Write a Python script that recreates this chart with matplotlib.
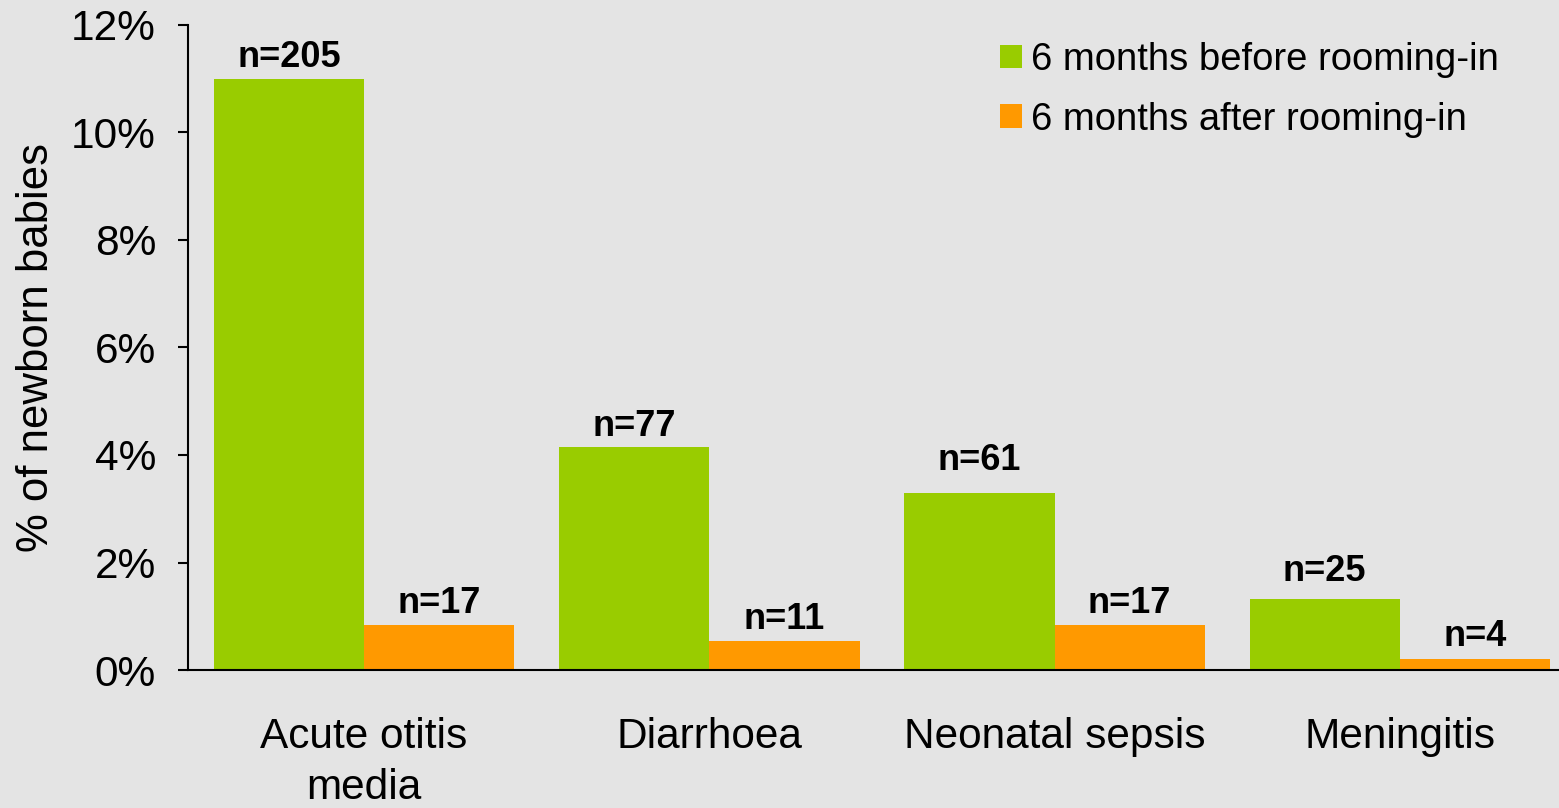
import matplotlib.pyplot as plt
import numpy as np

categories = ['Acute otitis\nmedia', 'Diarrhoea', 'Neonatal sepsis', 'Meningitis']
before = [11.0, 4.15, 3.29, 1.32]
after = [0.84, 0.54, 0.84, 0.20]
n_before = [205, 77, 61, 25]
n_after = [17, 11, 17, 4]
series_names = ['6 months before rooming-in', '6 months after rooming-in']

green = '#99cc00'
orange = '#ff9900'
bg = '#e4e4e4'

# label gaps above bars (points), as in the original slide
off_before = [3, 2, 11, 7]
off_after = [3, 3, 3, 4]

plt.rcParams['font.family'] = ['Liberation Sans', 'DejaVu Sans']

fig = plt.figure(figsize=(15.59, 8.08), dpi=100, facecolor=bg)
ax = fig.add_axes([188 / 1559, 1 - 670 / 808, 1 - 188 / 1559, (670 - 25) / 808])
ax.set_facecolor('none')

x = np.arange(len(categories))
w = 0.435
b1 = ax.bar(x - w / 2, before, w, color=green, label=series_names[0])
b2 = ax.bar(x + w / 2, after, w, color=orange, label=series_names[1])

for rect, n, off in zip(b1, n_before, off_before):
    ax.annotate('n=%d' % n, (rect.get_x() + rect.get_width() / 2, rect.get_height()),
                xytext=(0, off), textcoords='offset points',
                ha='center', va='bottom', fontsize=26, fontweight='bold')
for rect, n, off in zip(b2, n_after, off_after):
    ax.annotate('n=%d' % n, (rect.get_x() + rect.get_width() / 2, rect.get_height()),
                xytext=(0, off), textcoords='offset points',
                ha='center', va='bottom', fontsize=26, fontweight='bold')

ax.set_xlim(-0.51, 3.461)
ax.set_ylim(0, 12)
ax.set_yticks(range(0, 13, 2))
ax.set_yticklabels(['%d%%' % v for v in range(0, 13, 2)])
ax.set_xticks(x)
ax.set_xticklabels(categories)
for t in ax.get_xticklabels():
    t.set_linespacing(1.35)

ax.tick_params(axis='y', length=7, width=1.5, pad=16, labelsize=30.5)
ax.tick_params(axis='x', length=0, pad=34, labelsize=30.5)
ax.set_ylabel('% of newborn babies', fontsize=31.5, labelpad=10)

for s in ['top', 'right']:
    ax.spines[s].set_visible(False)
ax.spines['left'].set_linewidth(1.5)
ax.spines['bottom'].set_linewidth(1.5)

fig.legend(loc='upper left', bbox_to_anchor=(1000 / 1559, 1 - 42 / 808),
           frameon=False, fontsize=27.5, handlelength=0.58, handleheight=0.58,
           handletextpad=0.22, labelspacing=0.62, borderpad=0, borderaxespad=0)

fig.savefig('out.png', dpi=100, facecolor=bg)
